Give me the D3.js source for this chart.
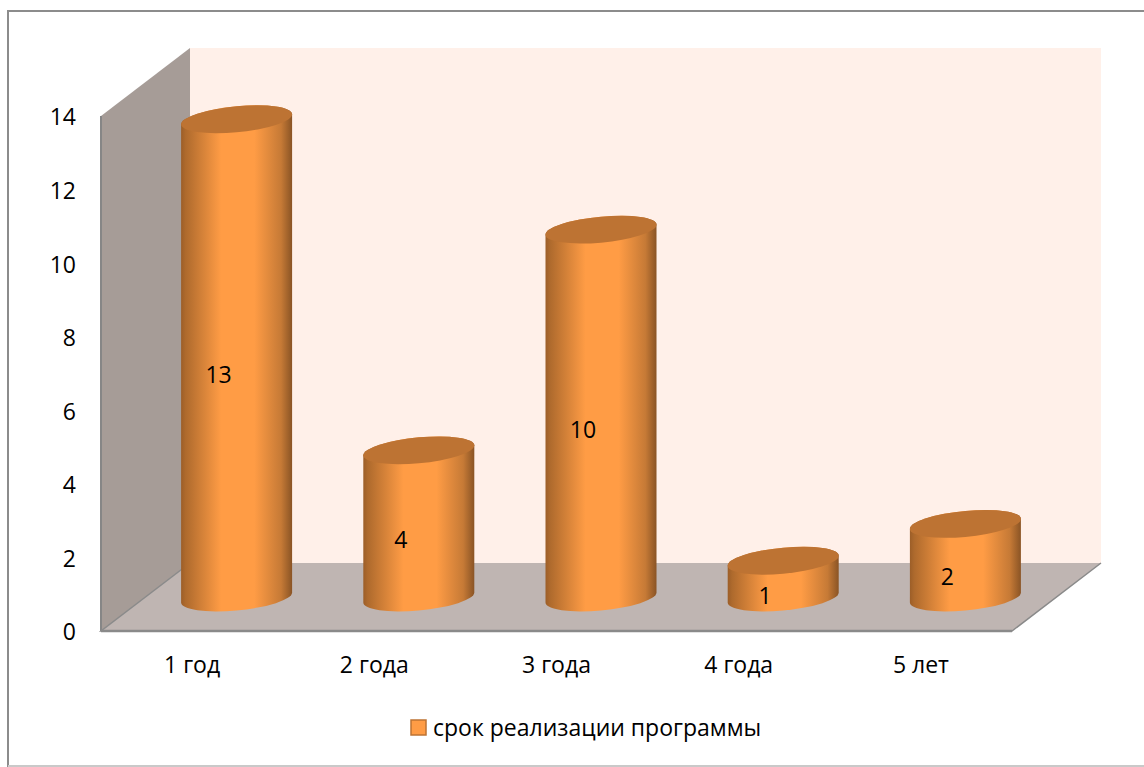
<!DOCTYPE html>
<html>
<head>
<meta charset="utf-8">
<script src="https://cdn.jsdelivr.net/npm/d3@7"></script>
<style>
html, body { margin: 0; padding: 0; background: #fff; overflow: hidden; }
text { font-family: "Open Sans", sans-serif; fill: #000; }
</style>
</head>
<body>
<svg id="chart"></svg>
<script>
const categories = ["1 год", "2 года", "3 года", "4 года", "5 лет"];
const values = [13, 4, 10, 1, 2];
const yTicks = [0, 2, 4, 6, 8, 10, 12, 14];
const seriesName = "срок реализации программы";

const svg = d3.select("#chart").attr("width", 1144).attr("height", 767);

// plot box of the front plane, the walls are pushed back by depth
const front = { left: 101, right: 1012, top: 116, bottom: 631 };
const depth = { dx: 89, dy: -68 };

const x = d3.scaleBand().domain(categories).range([front.left, front.right]);
const y = d3.scaleLinear().domain([0, 14]).range([front.bottom, front.top]);

const defs = svg.append("defs");
const grad = defs.append("linearGradient").attr("id", "cyl").attr("x1", 0).attr("x2", 1).attr("y1", 0).attr("y2", 0);
[[0, "#9c5e28"], [0.04, "#ae6a2d"], [0.36, "#ff9c45"], [0.66, "#ff9c45"], [0.9, "#c67a36"], [1, "#8a5425"]].forEach(s => {
  grad.append("stop").attr("offset", s[0]).attr("stop-color", s[1]);
});

// chart frame
svg.append("rect").attr("x", 8).attr("y", 11).attr("width", 1160).attr("height", 755)
  .attr("fill", "#fff").attr("stroke", "#8c8c8c").attr("stroke-width", 2);
svg.append("line").attr("x1", 8).attr("x2", 1144).attr("y1", 766).attr("y2", 766)
  .attr("stroke", "#c9c9c9").attr("stroke-width", 2);

// back wall
svg.append("rect")
  .attr("x", front.left + depth.dx).attr("y", front.top + depth.dy)
  .attr("width", front.right - front.left)
  .attr("height", front.bottom - front.top)
  .attr("fill", "#fff0e9");

// side wall
const wallPts = [
  [front.left, front.bottom], [front.left, front.top],
  [front.left + depth.dx, front.top + depth.dy], [front.left + depth.dx, front.bottom + depth.dy]
];
svg.append("polygon").attr("points", wallPts.join(" ")).attr("fill", "#a69c97");
svg.append("line")
  .attr("x1", front.left).attr("x2", front.left).attr("y1", front.top).attr("y2", front.bottom)
  .attr("stroke", "#868686").attr("stroke-width", 2);

// floor
const floorPts = [
  [front.left, front.bottom], [front.right, front.bottom],
  [front.right + depth.dx, front.bottom + depth.dy], [front.left + depth.dx, front.bottom + depth.dy]
];
svg.append("polygon").attr("points", floorPts.join(" ")).attr("fill", "#bfb5b2");
svg.append("polyline")
  .attr("points", [floorPts[3], floorPts[0], floorPts[1], floorPts[2]].join(" "))
  .attr("fill", "none").attr("stroke", "#8a8a8a").attr("stroke-width", 1.5);
svg.append("line")
  .attr("x1", front.left).attr("x2", front.right).attr("y1", front.bottom).attr("y2", front.bottom)
  .attr("stroke", "#8a8a8a").attr("stroke-width", 2.5);

// cylinders, the ellipses are sheared rather than rotated so the sides stay vertical
const rx = 55.5, ry = 13, shear = -5 / 55.5;
const baseY = y(0) + depth.dy / 2 + 0.5;

const bars = svg.append("g").selectAll("g").data(values).enter().append("g")
  .attr("transform", (d, i) => `translate(${x(categories[i]) + x.bandwidth() / 2 + depth.dx / 2},0)`);

bars.append("path")
  .attr("fill", "url(#cyl)")
  .attr("d", d => {
    const h = y(0) - y(d);
    return `M${-rx},${-h} L${-rx},0 A${rx},${ry} 0 0 0 ${rx},0 L${rx},${-h} A${rx},${ry} 0 0 0 ${-rx},${-h} Z`;
  })
  .attr("transform", `matrix(1,${shear},0,1,0,${baseY})`);

bars.append("ellipse")
  .attr("rx", rx).attr("ry", ry)
  .attr("transform", d => `matrix(1,${shear},0,1,0,${baseY - (y(0) - y(d))})`)
  .attr("fill", "#bd7333");

bars.append("text")
  .attr("x", -18)
  .attr("y", d => (y(d) + y(0)) / 2 + depth.dy / 4 + 8)
  .attr("text-anchor", "middle")
  .style("font-size", "23px")
  .text(d => d);

// axes
const yAxis = svg.append("g").attr("transform", `translate(${front.left},1.5)`)
  .call(d3.axisLeft(y).tickValues(yTicks).tickSize(0).tickPadding(25));
const xAxis = svg.append("g").attr("transform", `translate(0,${front.bottom})`)
  .call(d3.axisBottom(x).tickSize(0).tickPadding(26));
[yAxis, xAxis].forEach(a => {
  a.select(".domain").remove();
  a.selectAll("text").style("font-family", '"Open Sans", sans-serif').style("font-size", "23px").attr("fill", "#000");
});

// legend
svg.append("rect").attr("x", 411).attr("y", 720).attr("width", 15).attr("height", 15)
  .attr("fill", "#ff9c45").attr("stroke", "#bd7333").attr("stroke-width", 1.5);
svg.append("text").attr("x", 433).attr("y", 736).style("font-size", "23px").text(seriesName);
</script>
</body>
</html>
